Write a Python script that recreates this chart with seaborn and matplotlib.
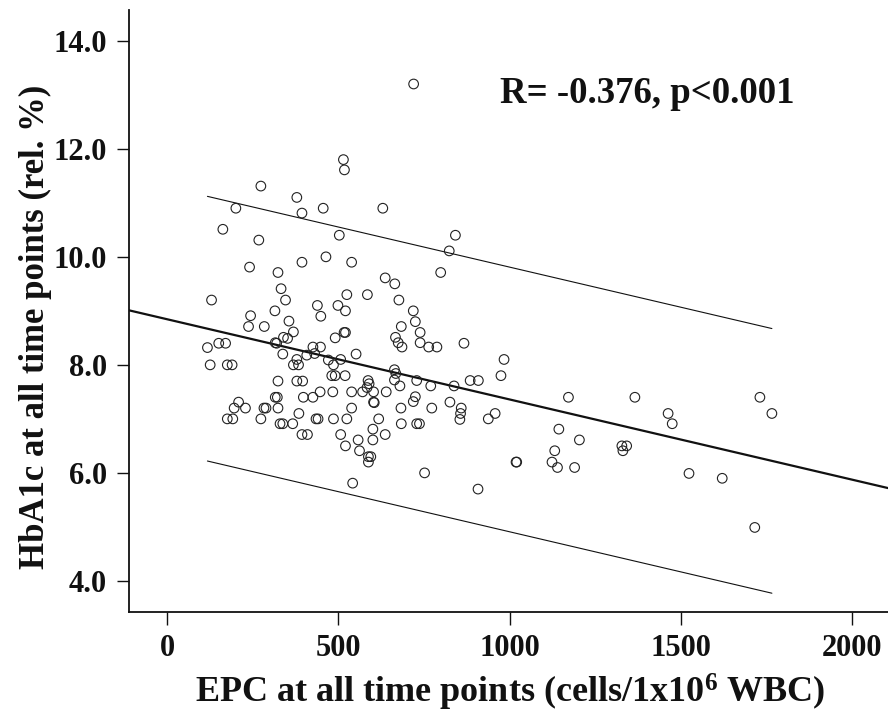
import numpy as np
import pandas as pd
import matplotlib
matplotlib.use('Agg')
import matplotlib.pyplot as plt
import seaborn as sns

# EPC (cells/1x10^6 WBC) and HbA1c (rel. %)
epc = [274, 379, 201, 394, 456, 163, 268, 241, 394, 324,
       333, 346, 130, 439, 449, 315, 244, 238, 284, 356,
       369, 340, 352, 316, 320, 118, 151, 171, 426, 448,
       126, 176, 190, 338, 379, 369, 384, 324, 379, 396,
       209, 196, 229, 316, 322, 283, 289, 324, 398, 426,
       447, 176, 192, 274, 330, 338, 367, 385, 435, 441,
       394, 410, 515, 518, 630, 503, 842, 824, 464, 539,
       799, 637, 665, 525, 585, 499, 521, 677, 719, 725,
       684, 739, 867, 491, 517, 521, 667, 675, 686, 739,
       764, 788, 408, 431, 471, 486, 507, 552, 481, 491,
       520, 587, 590, 584, 603, 571, 603, 605, 539, 484,
       640, 664, 668, 664, 680, 729, 770, 838, 885, 909,
       975, 725, 719, 683, 773, 826, 859, 857, 855, 958,
       938, 539, 618, 525, 486, 684, 729, 737, 507, 601,
       601, 637, 558, 521, 562, 588, 595, 588, 752, 542,
       908, 984, 1172, 1366, 1463, 1475, 1144, 1204, 1132, 1124,
       1140, 1190, 1021, 1019, 1328, 1342, 1331, 1731, 1766, 1524,
       1621, 1716, 720]
hba1c = [11.31, 11.10, 10.90, 10.81, 10.90, 10.51, 10.31, 9.81, 9.90, 9.71,
         9.41, 9.20, 9.20, 9.10, 8.90, 9.00, 8.91, 8.71, 8.71, 8.81,
         8.61, 8.51, 8.49, 8.41, 8.40, 8.32, 8.40, 8.40, 8.33, 8.33,
         8.00, 8.00, 8.00, 8.20, 8.10, 8.00, 8.00, 7.70, 7.70, 7.70,
         7.31, 7.20, 7.20, 7.40, 7.40, 7.20, 7.20, 7.20, 7.40, 7.40,
         7.50, 7.00, 7.00, 7.00, 6.91, 6.91, 6.91, 7.10, 7.00, 7.00,
         6.71, 6.71, 11.80, 11.61, 10.90, 10.40, 10.40, 10.11, 10.00, 9.90,
         9.71, 9.61, 9.50, 9.30, 9.30, 9.10, 9.00, 9.20, 9.00, 8.80,
         8.71, 8.60, 8.40, 8.50, 8.60, 8.60, 8.51, 8.41, 8.33, 8.41,
         8.33, 8.33, 8.18, 8.21, 8.09, 8.00, 8.10, 8.20, 7.80, 7.80,
         7.80, 7.71, 7.65, 7.58, 7.50, 7.50, 7.31, 7.30, 7.50, 7.50,
         7.50, 7.91, 7.84, 7.72, 7.61, 7.71, 7.61, 7.61, 7.71, 7.71,
         7.80, 7.41, 7.32, 7.20, 7.20, 7.31, 7.20, 7.10, 6.99, 7.10,
         7.00, 7.20, 7.00, 7.00, 7.00, 6.91, 6.91, 6.91, 6.71, 6.81,
         6.61, 6.71, 6.61, 6.50, 6.41, 6.30, 6.30, 6.20, 6.00, 5.81,
         5.70, 8.10, 7.40, 7.40, 7.10, 6.91, 6.81, 6.61, 6.41, 6.20,
         6.10, 6.10, 6.20, 6.20, 6.50, 6.50, 6.41, 7.40, 7.10, 5.99,
         5.90, 4.99, 13.20]

# regression line and prediction band
fit_intercept = 8.845
fit_slope = -0.001485
band_halfwidth = 2.45

x_ticks = [0, 500, 1000, 1500, 2000]
y_ticks = [4.0, 6.0, 8.0, 10.0, 12.0, 14.0]
x_limits = (-111, 2105)
y_limits = (3.43, 14.57)

df = pd.DataFrame({'EPC': epc, 'HbA1c': hba1c})

sns.set_theme(style='ticks')
plt.rcParams['font.family'] = ['Liberation Serif', 'DejaVu Serif']
plt.rcParams['font.weight'] = 'bold'
plt.rcParams['mathtext.fontset'] = 'custom'
plt.rcParams['mathtext.rm'] = 'Liberation Serif:bold'
plt.rcParams['mathtext.bf'] = 'Liberation Serif:bold'
plt.rcParams['mathtext.default'] = 'bf'

fig = plt.figure(figsize=(8.88, 7.13), dpi=100)
ax = fig.add_axes([129 / 888, 1 - 611.7 / 713, 1 - 129 / 888, (611.7 - 10) / 713])

sns.scatterplot(data=df, x='EPC', y='HbA1c', ax=ax, marker='o', s=48,
                facecolor='none', edgecolor='#222222', linewidth=0.8, zorder=3)

# fitted line across the whole axis
xf = np.array(x_limits, dtype=float)
ax.plot(xf, fit_intercept + fit_slope * xf, color='#111111', lw=1.6, zorder=2)

# prediction band over the data range
xb = np.array([df['EPC'].min(), df['EPC'].max()], dtype=float)
yc = fit_intercept + fit_slope * xb
ax.plot(xb, yc + band_halfwidth, color='#111111', lw=0.8, zorder=2)
ax.plot(xb, yc - band_halfwidth, color='#111111', lw=0.8, zorder=2)

ax.set_xlim(*x_limits)
ax.set_ylim(*y_limits)
ax.set_xticks(x_ticks)
ax.set_yticks(y_ticks)
ax.set_yticklabels([f'{v:.1f}' for v in y_ticks])
ax.tick_params(axis='both', length=9, width=1.0, color='#111111',
               labelsize=22, pad=7, labelcolor='#111111')
for lab in ax.get_xticklabels() + ax.get_yticklabels():
    lab.set_fontweight('bold')

sns.despine(ax=ax)
for sp in ['left', 'bottom']:
    ax.spines[sp].set_linewidth(1.3)
    ax.spines[sp].set_color('#111111')

ax.set_xlabel('')
ax.set_ylabel('')
fig.text(510 / 888, 1 - 692 / 713, 'EPC at all time points (cells/1x10$^{6}$ WBC)',
         ha='center', va='center', fontsize=26, fontweight='bold', color='#111111')
fig.text(35 / 888, 1 - 327 / 713, 'HbA1c at all time points (rel. %)',
         ha='center', va='center', rotation=90, fontsize=25, fontweight='bold',
         color='#111111')

fig.text(500 / 888, 1 - 103 / 713, 'R= -0.376, p<0.001', ha='left', va='baseline',
         fontsize=26.5, fontweight='bold', color='#111111')

fig.savefig('out.png', dpi=100)
